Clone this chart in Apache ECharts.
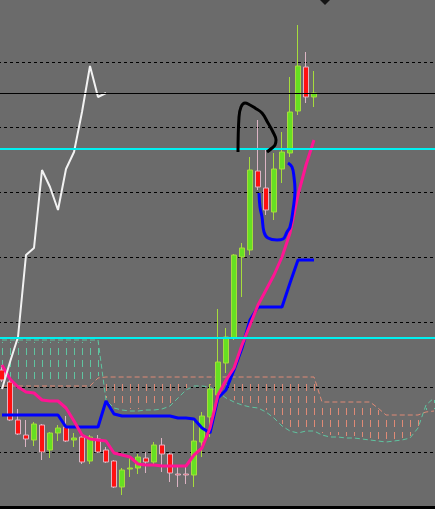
<!DOCTYPE html>
<html><head><meta charset="utf-8">
<script src="https://cdn.jsdelivr.net/npm/echarts@6/dist/echarts.min.js"></script>
<style>html,body{margin:0;padding:0;background:#000;overflow:hidden}#c{width:435px;height:506px;background:#6b6b6b}</style>
</head><body><div id="c"></div>
<script>
// bar slots (40 candles + 15 future slots for the shifted cloud)
const categories = ['0','1','2','3','4','5','6','7','8','9','10','11','12','13','14','15','16','17','18','19','20','21','22','23','24','25','26','27','28','29','30','31','32','33','34','35','36','37','38','39','40','41','42','43','44','45','46','47','48','49','50','51','52','53','54'];
const opens  = [147,135,97,82,77,92,67,84,90,77,80,56,78,67,56,30,48,49,59,55,72,63,43,43,42,75,100,122,154,179,260,267,346,329,305,348,364,406,450,420];
const closes = [137,97,83,78,93,65,84,89,76,79,55,80,65,55,30,47,49,60,55,72,63,44,42,42,76,101,128,155,180,262,269,347,330,307,348,365,405,451,420,424];
const lows   = [135,96,82,70,71,57,59,76,75,70,53,53,64,54,29,22,40,43,44,52,45,35,30,33,30,60,80,120,144,177,220,262,327,302,297,334,360,402,414,410];
const highs  = [152,137,108,97,95,93,85,92,101,84,81,82,82,70,57,49,59,63,65,75,79,64,50,50,97,105,133,208,189,263,274,360,397,367,364,385,440,492,465,446];
const tenkan = [152,138,130,125,124,117,116,116,109,96,82,78,77,76,64,62,60,53,52,52,51,51,51,51,62,69,89,122,137,149,172,192,212,227,242,260,284,322,352,377];
const kijun  = [102,102,102,102,102,102,102,102,90,90,90,90,90,116,103,101,101,101,101,101,101,101,99,99,98,89,84,119,127,147,169,197,210,210,210,210,234,257,257,257];
const chikou = [128,155,180,262,269,347,330,307,348,365,405,451,420,424];
const spanA  = [177,177,177,177,177,177,177,177,177,177,177,177,177,117,109,107,106,106,107,107,108,111,119,127,131,131,130,125,119,115,112,110,109,105,99,91,86,84,86,86,82,80,80,79,79,78,77,76,75,76,77,79,89,112,119];
const spanB  = [131,131,131,131,131,131,131,131,131,131,131,131,139,140,140,140,140,140,140,140,140,140,140,140,140,140,140,140,140,140,140,140,140,140,140,140,140,140,140,140,115,115,115,115,115,115,115,109,102,102,102,102,102,105,106];
const cyanLevels = [368, 179];
const blackLevel = 424;
// hand-drawn annotations: [bar position, price]
const blackArc = [[29.5,365],[29.625,400],[29.875,410],[30.375,414],[31,412],[31.625,409],[32.5,404],[33.25,394],[33.875,385],[34.25,377],[34.125,372],[33.75,369],[33.125,365]];
const blueLoop = [[32.125,324],[32.25,310],[32.5,300],[32.75,285],[33.25,279],[34.375,277],[35.125,278],[35.625,285],[36,290],[36.375,307],[36.625,327],[36.5,340],[36.25,350],[35.75,354]];
const arrowMark = [[40.375,518]];

const candleData = opens.map((o, i) => [o, closes[i], lows[i], highs[i]]);
const cloudData = spanA.map((a, i) => [i, a, spanB[i]]);
const TEAL = '#5fc4a0', SALMON = '#df8a76';
const DASH = [7, 5];

const chart = echarts.init(document.getElementById('c'), null, {renderer: 'canvas'});
chart.setOption({
  animation: false,
  backgroundColor: '#6b6b6b',
  grid: {left: -2, top: -3, width: 440, height: 520, outerBoundsMode: 'none', containLabel: false},
  xAxis: [
    {type: 'category', data: categories, boundaryGap: true, show: false},
    {type: 'value', min: -0.5, max: 54.5, show: false}
  ],
  yAxis: {type: 'value', min: 0, max: 520, interval: 65,
    axisLine: {show: false}, axisTick: {show: false}, axisLabel: {show: false},
    splitLine: {show: true, lineStyle: {color: '#000', width: 1, type: [3, 3]}}},
  series: [
    {type: 'custom', z: 1, silent: true, data: cloudData, encode: {x: 0, y: [1, 2]},
      renderItem: function (params, api) {
        const i = api.value(0), a = api.value(1), b = api.value(2);
        const p1 = api.coord([i, a]), p2 = api.coord([i, b]);
        const top = Math.min(p1[1], p2[1]), bot = Math.max(p1[1], p2[1]);
        const x = Math.round(p1[0]) + 0.5;
        return {type: 'line', shape: {x1: x, y1: top + 2, x2: x, y2: bot - 2},
          style: {stroke: a > b ? TEAL : SALMON, lineWidth: 1, lineDash: DASH,
                  lineDashOffset: (top + 2) % (DASH[0] + DASH[1])}};
      }},
    {type: 'line', z: 1, data: spanA, symbol: 'none', silent: true, lineStyle: {color: TEAL, width: 1, type: [5, 3]}},
    {type: 'line', z: 1, data: spanB, symbol: 'none', silent: true, lineStyle: {color: SALMON, width: 1, type: [5, 3]}},
    {type: 'candlestick', z: 2, data: candleData, barWidth: 5,
      itemStyle: {color: '#66e022', borderColor: '#a6dc3c', color0: '#ff1010', borderColor0: '#dcb4c4', borderWidth: 1}},
    {type: 'line', z: 3, data: kijun, symbol: 'none', lineStyle: {color: '#0000ff', width: 3}},
    {type: 'line', z: 3, data: tenkan, symbol: 'none', lineStyle: {color: '#ff1493', width: 3}},
    {type: 'line', z: 3, data: chikou, symbol: 'none', lineStyle: {color: '#f2f2f2', width: 2}},
    {type: 'line', z: 4, data: [], silent: true,
      markLine: {silent: true, symbol: ['none', 'none'], label: {show: false}, animation: false,
        data: [
          {yAxis: cyanLevels[0], lineStyle: {color: '#00f0f0', width: 2, type: 'solid'}},
          {yAxis: cyanLevels[1], lineStyle: {color: '#00f0f0', width: 2, type: 'solid'}},
          {yAxis: blackLevel, lineStyle: {color: '#000', width: 1, type: 'solid'}}
        ]}},
    {type: 'line', z: 5, xAxisIndex: 1, data: blackArc, smooth: 0.4, symbol: 'none', lineStyle: {color: '#000', width: 3}},
    {type: 'line', z: 5, xAxisIndex: 1, data: blueLoop, smooth: 0.4, symbol: 'none', lineStyle: {color: '#0000ff', width: 3}},
    {type: 'scatter', z: 5, xAxisIndex: 1, data: arrowMark, symbol: 'diamond', symbolSize: [12, 12], itemStyle: {color: '#000'}}
  ]
});
</script></body></html>
